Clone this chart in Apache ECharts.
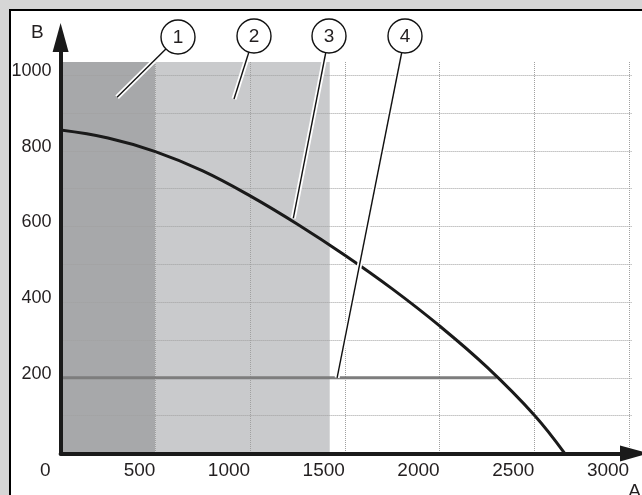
<!DOCTYPE html>
<html>
<head>
<meta charset="utf-8">
<script src="https://cdn.jsdelivr.net/npm/echarts@6/dist/echarts.min.js"></script>
<style>
  html, body { margin: 0; padding: 0; background: #d6d6d6; }
  #main { width: 642px; height: 495px; }
</style>
</head>
<body>
<div id="main"></div>
<script>
// pump curve (3)
const pumpX = [0, 250, 500, 750, 1000, 1250, 1500, 1750, 2000, 2250, 2500, 2660];
const pumpY = [855, 834, 798, 747, 681, 606, 524, 435, 337, 228, 101, 0];
// limit line (4)
const limitX = [0, 2300];
const limitY = [200, 200];
// shaded ranges (1) and (2)
const zoneFrom = [0, 500];
const zoneTo = [500, 1420];
const zoneColors = ["#a7a8aa", "#c9cacc"];
// tick labels
const xLabels = [0, 500, 1000, 1500, 2000, 2500, 3000];
const yLabels = [200, 400, 600, 800, 1000];
// callouts: number, circle centre (px), target point (data)
const calloutNums = ["1", "2", "3", "4"];
const calloutCircles = [[178, 37], [254, 36], [329, 36], [405, 36]];
const calloutTargets = [[298, 942], [915, 937], [1228, 622], [1459, 200]];

const FONT = "'Liberation Sans', Arial, sans-serif";
const TXT = "#231f20";

const pair = (xs, ys) => xs.map((x, i) => [x, ys[i]]);

const chart = echarts.init(document.getElementById("main"));

const arrowLine = {
  show: true,
  symbol: ["none", "triangle"],
  symbolSize: [16, 29],
  lineStyle: { color: "#1a1a1a", width: 4 },
};
const gridDots = {
  show: true,
  showMinLine: false,
  showMaxLine: false,
  lineStyle: { color: "#a0a0a0", type: "dotted", width: 1 },
};

const option = {
  backgroundColor: "#d6d6d6",
  animation: false,
  textStyle: { fontFamily: FONT },
  grid: [
    { left: 60.6, right: 10, top: 62, bottom: 41.6, outerBoundsMode: "none" },
    { left: 60.6, right: 7.5, top: 37.5, bottom: 41.6, outerBoundsMode: "none" },
  ],
  xAxis: [
    {
      type: "value",
      gridIndex: 0,
      z: 2,
      min: 0,
      max: 3015,
      interval: 500,
      axisLine: { show: false },
      axisTick: { show: false },
      splitLine: gridDots,
      axisLabel: {
        showMaxLabel: false,
        align: "right",
        margin: 8,
        fontSize: 19,
        color: TXT,
        formatter: (v) => {
          if (v === 0) return "{z|0}";
          return xLabels.indexOf(v) >= 0 ? String(v) : "";
        },
        rich: {
          z: { fontSize: 19, color: TXT, padding: [0, 10, 0, 0] },
        },
      },
    },
    {
      type: "value",
      gridIndex: 1,
      z: 6,
      min: 0,
      max: 1,
      axisLine: arrowLine,
      axisTick: { show: false },
      axisLabel: { show: false },
      splitLine: { show: false },
      name: "A",
      nameLocation: "end",
      nameGap: 0,
      nameMoveOverlap: false,
      nameTextStyle: {
        fontSize: 19,
        color: TXT,
        align: "center",
        verticalAlign: "top",
        padding: [29, 0, 0, 0],
      },
    },
  ],
  yAxis: [
    {
      type: "value",
      gridIndex: 0,
      z: 2,
      min: 0,
      max: 1035,
      interval: 100,
      axisLine: { show: false },
      axisTick: { show: false },
      splitLine: gridDots,
      axisLabel: {
        showMaxLabel: false,
        margin: 9,
        fontSize: 18,
        color: TXT,
        verticalAlign: "bottom",
        lineHeight: 8,
        formatter: (v) => (yLabels.indexOf(v) >= 0 ? String(v) : ""),
      },
    },
    {
      type: "value",
      gridIndex: 1,
      z: 6,
      min: 0,
      max: 1,
      axisLine: arrowLine,
      axisTick: { show: false },
      axisLabel: { show: false },
      splitLine: { show: false },
      name: "B",
      nameLocation: "end",
      nameGap: 5,
      nameMoveOverlap: false,
      nameTextStyle: {
        fontSize: 19,
        color: TXT,
        align: "right",
        verticalAlign: "middle",
        padding: [0, 17, 0, 0],
      },
    },
  ],
  series: [
    {
      // only carries the shaded zones, kept under the grid lines
      type: "line",
      xAxisIndex: 0,
      yAxisIndex: 0,
      data: [],
      z: 1,
      silent: true,
      markArea: {
        silent: true,
        data: zoneFrom.map((from, i) => [
          { xAxis: from, yAxis: 0, itemStyle: { color: zoneColors[i] } },
          { xAxis: zoneTo[i], yAxis: 1035 },
        ]),
      },
    },
    {
      name: "limit",
      type: "line",
      xAxisIndex: 0,
      yAxisIndex: 0,
      data: pair(limitX, limitY),
      showSymbol: false,
      symbol: "none",
      lineStyle: { color: "#7d7d7d", width: 3 },
      z: 3,
    },
    {
      name: "pump",
      type: "line",
      xAxisIndex: 0,
      yAxisIndex: 0,
      data: pair(pumpX, pumpY),
      smooth: 0.4,
      showSymbol: false,
      symbol: "none",
      lineStyle: { color: "#1a1a1a", width: 3 },
      z: 4,
    },
  ],
};

chart.setOption(option);

// frame + callouts
const graphics = [
  {
    type: "rect",
    z: -10,
    silent: true,
    shape: { x: 10, y: 10, width: 700, height: 600 },
    style: { fill: "#ffffff", stroke: "#000000", lineWidth: 2 },
  },
];
calloutNums.forEach((n, i) => {
  const c = calloutCircles[i];
  const t = chart.convertToPixel({ gridIndex: 0 }, calloutTargets[i]);
  graphics.push({
    type: "line",
    z: 100,
    silent: true,
    shape: { x1: c[0], y1: c[1], x2: t[0], y2: t[1] },
    style: { stroke: "#ffffff", lineWidth: 5 },
  });
  graphics.push({
    type: "line",
    z: 101,
    silent: true,
    shape: { x1: c[0], y1: c[1], x2: t[0], y2: t[1] },
    style: { stroke: "#111111", lineWidth: 1.4 },
  });
  graphics.push({
    type: "circle",
    z: 102,
    silent: true,
    shape: { cx: c[0], cy: c[1], r: 17 },
    style: { fill: "#ffffff", stroke: "#111111", lineWidth: 1.4 },
  });
  graphics.push({
    type: "text",
    z: 103,
    silent: true,
    x: c[0],
    y: c[1] + 1,
    style: {
      text: n,
      fontSize: 19,
      fontFamily: FONT,
      fill: TXT,
      align: "center",
      verticalAlign: "middle",
    },
  });
});
chart.setOption({ graphic: graphics });
</script>
</body>
</html>
